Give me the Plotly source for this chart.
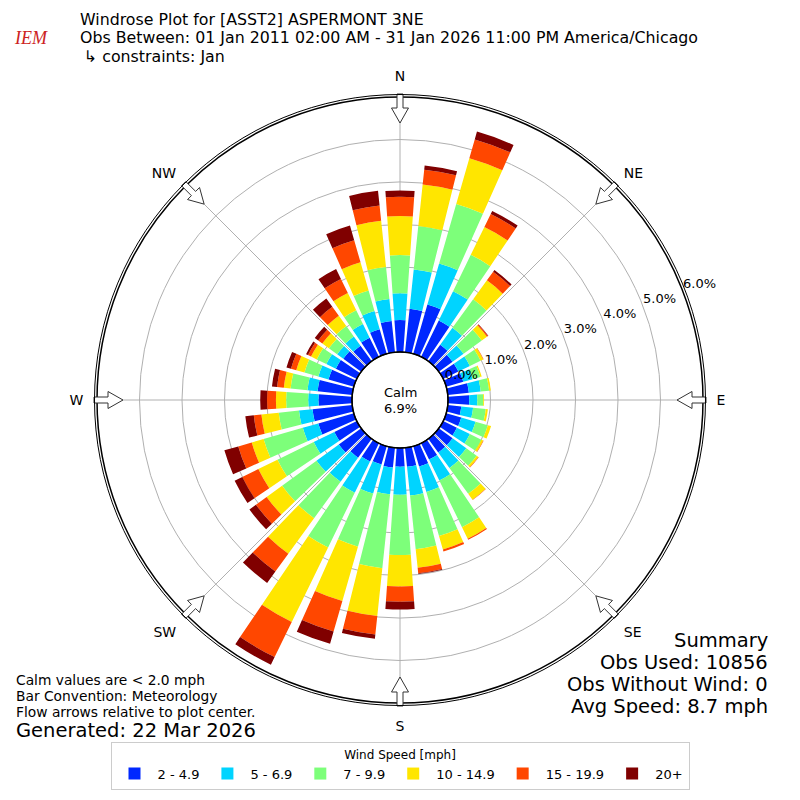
import math
import plotly.graph_objects as go

# Direction bins (degrees, meteorological, 10 degree bins)
directions = list(range(0, 360, 10))

speed_bins = ['2 - 4.9', '5 - 6.9', '7 - 9.9', '10 - 14.9', '15 - 19.9', '20+']
bin_colors = ['#0028ff', '#00d4ff', '#7dff7a', '#ffe600', '#ff4700', '#800000']

# frequency (%) of each speed bin per direction
pct_2_5 = [0.75, 1.03, 1.21, 0.95, 0.48, 0.40, 0.40, 0.42, 0.50, 0.50, 0.32, 0.37,
           0.36, 0.40, 0.40, 0.43, 0.50, 0.45, 0.44, 0.47, 0.45, 0.48, 0.55, 0.65,
           0.59, 0.87, 0.94, 0.79, 0.82, 0.62, 0.55, 0.52, 0.45, 0.50, 0.60, 0.74]
pct_5_7 = [0.63, 0.93, 1.00, 0.77, 0.49, 0.32, 0.30, 0.23, 0.28, 0.19, 0.28, 0.35,
           0.34, 0.40, 0.45, 0.55, 0.62, 0.68, 0.66, 0.63, 0.71, 0.82, 0.70, 0.65,
           0.54, 0.38, 0.32, 0.24, 0.24, 0.25, 0.25, 0.18, 0.27, 0.36, 0.45, 0.52]
pct_7_10 = [0.90, 1.03, 1.46, 0.95, 0.83, 0.53, 0.28, 0.19, 0.20, 0.14, 0.30, 0.30,
            0.30, 0.30, 0.75, 1.22, 1.08, 1.27, 1.42, 1.75, 1.30, 1.43, 1.06, 1.00,
            0.95, 0.96, 0.48, 0.52, 0.40, 0.34, 0.25, 0.24, 0.30, 0.36, 0.50, 0.76]
pct_10_15 = [0.92, 0.98, 1.12, 0.73, 0.55, 0.15, 0.07, 0.03, 0.04, 0.02, 0.05, 0.08,
             0.05, 0.05, 0.17, 0.30, 0.33, 0.44, 0.74, 1.13, 1.33, 1.95, 1.03, 0.45,
             0.50, 0.29, 0.41, 0.24, 0.16, 0.20, 0.15, 0.19, 0.30, 0.45, 0.69, 1.09]
pct_15_20 = [0.45, 0.35, 0.46, 0.34, 0.25, 0.03, 0.01, 0.00, 0.00, 0.00, 0.00, 0.00,
             0.01, 0.01, 0.01, 0.03, 0.05, 0.13, 0.36, 0.44, 0.75, 0.92, 0.52, 0.31,
             0.42, 0.33, 0.18, 0.21, 0.16, 0.13, 0.08, 0.12, 0.26, 0.37, 0.54, 0.36]
pct_20p = [0.15, 0.10, 0.19, 0.08, 0.05, 0.01, 0.00, 0.00, 0.00, 0.00, 0.00, 0.00,
           0.00, 0.00, 0.00, 0.00, 0.00, 0.02, 0.18, 0.10, 0.30, 0.20, 0.33, 0.19,
           0.20, 0.34, 0.20, 0.16, 0.12, 0.11, 0.05, 0.10, 0.24, 0.26, 0.36, 0.35]

bin_values = [pct_2_5, pct_5_7, pct_7_10, pct_10_15, pct_15_20, pct_20p]

compass_angles = [0, 45, 90, 135, 180, 225, 270, 315]
compass_labels = ['N', 'NE', 'E', 'SE', 'S', 'SW', 'W', 'NW']
radial_ticks = [0, 1, 2, 3, 4, 5, 6]
radial_labels = ['0.0%', '1.0%', '2.0%', '3.0%', '4.0%', '5.0%', '6.0%']

calm_pct = 6.9
title_lines = ['Windrose Plot for [ASST2] ASPERMONT 3NE',
               'Obs Between: 01 Jan 2011 02:00 AM - 31 Jan 2026 11:00 PM America/Chicago',
               '↳ constraints: Jan']
summary_lines = ['Summary', 'Obs Used: 10856', 'Obs Without Wind: 0', 'Avg Speed: 8.7 mph']
note_lines = ['Calm values are < 2.0 mph', 'Bar Convention: Meteorology',
              'Flow arrows relative to plot center.']

FONT = 'DejaVu Sans'
W = H = 800
OFF = 8  # the page body margin shifts the figure by this much
CX, CY, R_OUT, R_HOLE = 400, 400, 303, 48
R_MAX = 6
LABEL_ANGLE, LABEL_PAD = 68.8, 0.42

fig = go.Figure()

for name, vals, col in zip(speed_bins, bin_values, bin_colors):
    fig.add_trace(go.Barpolar(
        r=vals, theta=directions, width=8, name=name,
        marker=dict(color=col, line=dict(width=0)),
    ))

# radial labels sit a little outside each ring, like matplotlib does
inner = [t for t in radial_ticks if t + LABEL_PAD <= R_MAX]
fig.add_trace(go.Scatterpolar(
    r=[t + LABEL_PAD for t in inner], theta=[LABEL_ANGLE] * len(inner),
    mode='text', text=radial_labels[:len(inner)], textposition='middle center',
    textfont=dict(family=FONT, size=13, color='black'),
    showlegend=False, hoverinfo='skip', cliponaxis=False,
))


def px_to_paper(x, y):
    return (x - OFF) / W, 1 - (y - OFF) / H


# flow arrows at the compass points, pointing to the center
shapes = []
for a in compass_angles:
    ar = math.radians(a)
    pts = [(306, 3), (292, 3), (292, 8.5), (277, 0), (292, -8.5), (292, -3), (306, -3)]
    path = ''
    for i, (r, w) in enumerate(pts):
        x = CX + r * math.sin(ar) + w * math.cos(ar)
        y = CY - r * math.cos(ar) + w * math.sin(ar)
        px, py = px_to_paper(x, y)
        path += ('M' if i == 0 else 'L') + f'{px:.5f},{py:.5f} '
    shapes.append(dict(type='path', path=path + 'Z', xref='paper', yref='paper',
                       fillcolor='white', line=dict(color='#333333', width=1)))

# hole outline and the second (outer) frame line
for rad, lw in [(R_HOLE, 1.2), (R_OUT + 2.5, 1)]:
    x0, y0 = px_to_paper(CX - rad, CY + rad)
    x1, y1 = px_to_paper(CX + rad, CY - rad)
    shapes.append(dict(type='circle', xref='paper', yref='paper', x0=x0, y0=y0,
                       x1=x1, y1=y1, line=dict(color='black', width=lw)))

annotations = []


def add_text(x, y, text, size, xanchor='left', family=FONT, color='black'):
    px, py = px_to_paper(x, y)
    annotations.append(dict(x=px, y=py, xref='paper', yref='paper', text=text,
                            showarrow=False, xanchor=xanchor, yanchor='middle',
                            font=dict(family=family, size=size, color=color)))


# radial labels beyond the plotted range
for t, lab in zip(radial_ticks, radial_labels):
    if t + LABEL_PAD > R_MAX:
        rr = R_HOLE + (t + LABEL_PAD) * (R_OUT - R_HOLE) / R_MAX
        ang = math.radians(LABEL_ANGLE)
        add_text(CX + rr * math.sin(ang), CY - rr * math.cos(ang), lab, 13, xanchor='center')

for i, line in enumerate(title_lines):
    add_text(78 if i < 2 else 82, 19 + i * 18.5, line, 15.8)
add_text(12, 38, '<i>IEM</i>', 18, family='Liberation Serif', color='#cc2222')

add_text(400, 392, 'Calm', 13, xanchor='center')
add_text(400, 408, f'{calm_pct}%', 13, xanchor='center')

for i, line in enumerate(note_lines):
    add_text(14, 680 + i * 16, line, 13.8)
add_text(14, 730, 'Generated: 22 Mar 2026', 19.5)

for i, line in enumerate(summary_lines):
    add_text(770, 640 + i * 22, line, 19.5, xanchor='right')

fig.update_layout(
    width=W, height=H,
    margin=dict(l=0, r=0, t=0, b=0),
    paper_bgcolor='white',
    font=dict(family=FONT, size=13, color='black'),
    polar=dict(
        domain=dict(x=[(CX - OFF - R_OUT) / W, (CX - OFF + R_OUT) / W],
                    y=[1 - (CY - OFF + R_OUT) / H, 1 - (CY - OFF - R_OUT) / H]),
        hole=R_HOLE / R_OUT,
        bgcolor='white',
        barmode='stack',
        angularaxis=dict(
            rotation=90, direction='clockwise',
            tickmode='array', tickvals=compass_angles, ticktext=compass_labels,
            showgrid=True, gridcolor='#b0b0b0', gridwidth=1,
            showline=True, linecolor='black', linewidth=1.5,
            ticks='outside', ticklen=10, tickcolor='rgba(0,0,0,0)',
            tickfont=dict(family=FONT, size=14),
        ),
        radialaxis=dict(
            range=[0, R_MAX], tickmode='array', tickvals=radial_ticks,
            showticklabels=False, angle=22.5, showline=False, ticks='',
            showgrid=True, gridcolor='#b0b0b0', gridwidth=1,
        ),
    ),
    legend=dict(
        orientation='h', x=0.5 - OFF / W, xanchor='center',
        y=(10 + OFF) / H, yanchor='bottom',
        title=dict(text='Wind Speed [mph]', side='top center',
                   font=dict(family=FONT, size=12)),
        bordercolor='#cccccc', borderwidth=1, font=dict(family=FONT, size=13),
        itemwidth=36, traceorder='normal',
    ),
    showlegend=True,
    shapes=shapes,
    annotations=annotations,
)

fig.write_html('out.html')
